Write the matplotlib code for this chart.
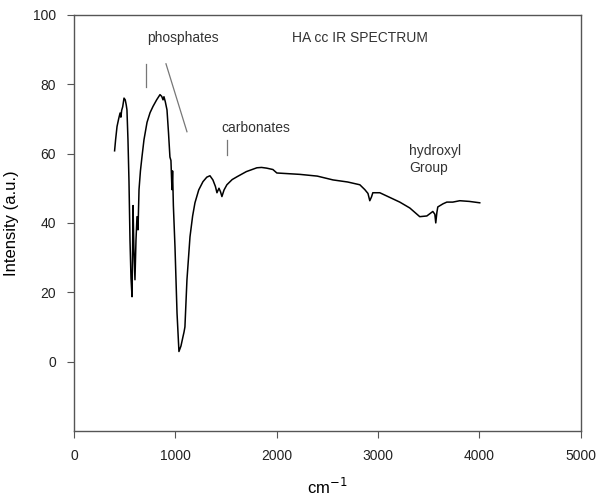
import matplotlib.pyplot as plt

plt.rcParams['font.family'] = ['Liberation Sans', 'DejaVu Sans']

# IR spectrum (wavenumber cm-1, intensity a.u.)
wavenumber = [400, 410, 424, 440, 454, 462, 470, 480, 493, 505, 515, 522, 532, 542,
              552, 562, 572, 577, 582, 590, 601, 611, 621, 631, 641, 655, 670, 690,
              720, 750, 779, 815, 848, 865, 878, 887, 900, 917, 932, 946, 956, 962,
              966, 972, 980, 996, 1016, 1035, 1055, 1075, 1085, 1094, 1114, 1144,
              1170, 1193, 1230, 1272, 1310, 1341, 1370, 1395, 1410, 1430, 1445, 1459,
              1480, 1508, 1560, 1607, 1700, 1804, 1850, 1900, 1962, 2001, 2228, 2400,
              2555, 2700, 2820, 2869, 2900, 2918, 2935, 2948, 3017, 3214, 3313, 3411,
              3481, 3540, 3560, 3569, 3580, 3589, 3640, 3678, 3737, 3806, 3900, 4003]
intensity = [60.8, 64, 67.8, 70, 71.7, 70.5, 72.5, 73.5, 76, 75.5, 74, 72.6, 64, 52,
             35, 24, 18.7, 30, 45, 33, 23.6, 35, 41.8, 38, 49.6, 55, 59, 64,
             69, 71.8, 73.6, 75.5, 77, 76.5, 75.5, 76.4, 75, 72.6, 66, 59, 58, 53,
             49.6, 55, 45, 33, 14, 2.9, 4.5, 7.2, 8.5, 10, 23.6, 36,
             42, 45.8, 49.5, 51.9, 53.2, 53.6, 52.4, 50.5, 48.7, 50, 49, 47.6,
             49.5, 51, 52.5, 53.3, 54.8, 55.9, 56, 55.8, 55.4, 54.4, 54, 53.5,
             52.4, 51.8, 51, 49.6, 48.5, 46.4, 47.5, 48.7, 48.7, 46, 44.3, 41.8,
             42, 43.3, 42.5, 40, 43, 44.6, 45.5, 46, 46, 46.4, 46.2, 45.8]

axis_color = '#555555'

fig, ax = plt.subplots(figsize=(6.12, 4.97), dpi=100)
fig.subplots_adjust(left=0.121, right=0.949, top=0.97, bottom=0.133)

ax.plot(wavenumber, intensity, color='black', linewidth=1.1)

# Annotations
ax.text(1075, 93.4, 'phosphates', ha='center', va='center', fontsize=10, color='#333333')
ax.text(2820, 93.4, 'HA cc IR SPECTRUM', ha='center', va='center', fontsize=10, color='#333333')
ax.text(1795, 67.4, 'carbonates', ha='center', va='center', fontsize=10, color='#333333')
ax.text(3303, 58.3, 'hydroxyl\nGroup', ha='left', va='center', fontsize=10,
        color='#333333', linespacing=1.2)
ax.plot([710, 710], [79.2, 85.9], color='#777777', linewidth=0.9)
ax.plot([907, 1114], [85.9, 66.3], color='#777777', linewidth=0.9)
ax.plot([1508, 1508], [59.6, 64], color='#777777', linewidth=0.9)

ax.set_xlim(0, 5000)
ax.set_ylim(-20, 100)
ax.set_xticks(range(0, 5001, 1000))
ax.set_yticks(range(0, 101, 20))
ax.set_xlabel('cm$^{-1}$', fontsize=12, labelpad=10)
ax.set_ylabel('Intensity (a.u.)', fontsize=12, labelpad=10)
ax.tick_params(direction='out', length=5, color=axis_color, labelsize=10,
               labelcolor='#222222', pad=8)
for spine in ax.spines.values():
    spine.set_color(axis_color)
    spine.set_linewidth(1.0)

fig.savefig('out.png', dpi=100)
